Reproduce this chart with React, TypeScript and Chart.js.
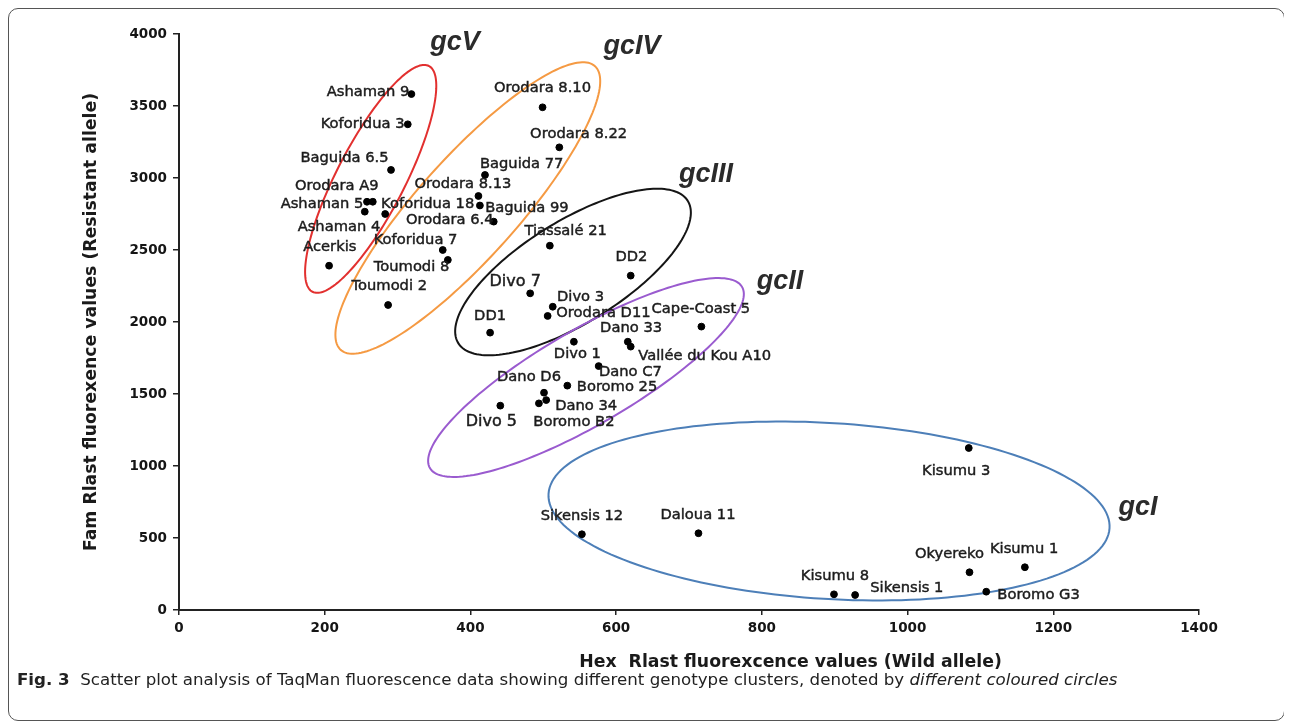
import React, { useEffect, useRef } from "react";
import { Chart, registerables } from "chart.js";

Chart.register(...registerables);

// ---------- data ----------
const sampleNames = [
  "Ashaman 9", "Koforidua 3", "Baguida 6.5", "Orodara A9", "Ashaman 5", "Ashaman 4",
  "Koforidua 18", "Acerkis", "Koforidua 7", "Toumodi 8", "Toumodi 2",
  "Orodara 8.10", "Orodara 8.22", "Baguida 77", "Orodara 8.13", "Baguida 99", "Orodara 6.4",
  "Tiassalé 21", "DD2", "Divo 7", "Divo 3", "Orodara D11", "DD1",
  "Cape-Coast 5", "Dano 33", "Vallée du Kou A10", "Divo 1", "Dano C7", "Boromo 25",
  "Dano D6", "Dano 34", "Boromo B2", "Divo 5",
  "Kisumu 3", "Sikensis 12", "Daloua 11", "Kisumu 8", "Sikensis 1", "Okyereko", "Kisumu 1", "Boromo G3",
];
// Hex Rlast (wild allele)
const hexValues = [
  319, 314, 291, 266, 258, 255, 283, 206, 362, 369, 287,
  499, 522, 420, 411, 413, 432,
  509, 620, 482, 513, 506, 427,
  717, 616, 620, 542, 576, 533,
  501, 504, 494, 441,
  1084, 553, 713, 899, 928, 1085, 1161, 1108,
];
// Fam Rlast (resistant allele)
const famValues = [
  3583, 3373, 3056, 2835, 2835, 2766, 2750, 2391, 2500, 2431, 2118,
  3491, 3213, 3021, 2875, 2809, 2697,
  2530, 2322, 2199, 2106, 2042, 1926,
  1968, 1863, 1829, 1863, 1694, 1558,
  1509, 1458, 1435, 1419,
  1125, 526, 533, 109, 104, 262, 297, 127,
];

const xTickValues = [0, 200, 400, 600, 800, 1000, 1200, 1400];
const yTickValues = [0, 500, 1000, 1500, 2000, 2500, 3000, 3500, 4000];

// genotype clusters (ellipses in data units: centre, major semi-axis vector, minor semi-axis vector)
const clusterNames = ["gcV", "gcIV", "gcIII", "gcII", "gcI"];
const clusterCenterX = [263.1, 396.4, 540.8, 558.6, 892.2];
const clusterCenterY = [2993.8, 2791.7, 2347.2, 1614.6, 687.5];
const clusterMajorDX = [79.9, 174.4, 157.5, 214.2, 385.0];
const clusterMajorDY = [784, 985.4, 493.9, 629, -119.1];
const clusterMinorDX = [41.5, 51.1, 36.9, 32.7, -7.4];
const clusterMinorDY = [-108.2, -231.6, -301, -285.3, -609.9];
const clusterLabelX = [378.8, 621.8, 723.3, 824.9, 1316.3];
const clusterLabelY = [3937.5, 3909.7, 3020.8, 2277.8, 708.3];

// ---------- styling ----------
const clusterColors = ["#e2302f", "#f59a43", "#151515", "#9a5bcf", "#4d7fb8"];
const labelOffsetX = [
  -43.4, -45.2, -46.5, -36, -45, -25.8, 42.5, 0.7, -27.2, -36.3, 1.2,
  0, 19.3, 36.7, -15.5, 47, -44,
  15.8, 0.7, -15, 27.8, 55.8, 0,
  -0.5, 3.3, 74, 3.5, 31.7, 49.7,
  -15, 40, 35, -9,
  -12.6, 0, -0.5, 1, 51.7, -20, -0.8, 52.3,
];
const labelOffsetY = [
  -2.3, 0, -11.7, -16, 2.6, 15.6, -9.7, -19, -10, 7.3, -19.3,
  -19, -13.3, -11, -12, 2.3, -1,
  -15, -18.4, -11.6, -9.7, -3, -16,
  -17.7, -13.7, 9.3, 12.3, 6, 1.3,
  -15.7, 6, 18.7, 16.3,
  23.4, -17.6, -18.3, -18.6, -6.7, -18.3, -18, 3.3,
];
const largeLabels = ["Divo 5", "Divo 7"];

const tickFont = { family: "'DejaVu Sans', sans-serif", size: 13.5, weight: "bold" as const };

const ellipsePlugin = {
  id: "clusterEllipses",
  beforeDatasetsDraw(chart: any) {
    const { ctx, scales } = chart;
    const xs = scales.x, ys = scales.y;
    ctx.save();
    for (let i = 0; i < clusterNames.length; i++) {
      ctx.beginPath();
      for (let k = 0; k <= 180; k++) {
        const t = (k / 180) * Math.PI * 2;
        const dx = clusterCenterX[i] + clusterMajorDX[i] * Math.cos(t) + clusterMinorDX[i] * Math.sin(t);
        const dy = clusterCenterY[i] + clusterMajorDY[i] * Math.cos(t) + clusterMinorDY[i] * Math.sin(t);
        const px = xs.getPixelForValue(dx);
        const py = ys.getPixelForValue(dy);
        if (k === 0) ctx.moveTo(px, py);
        else ctx.lineTo(px, py);
      }
      ctx.closePath();
      ctx.strokeStyle = clusterColors[i];
      ctx.lineWidth = 2;
      ctx.stroke();
      ctx.fillStyle = "#2b2b2b";
      ctx.font = "italic bold 27px 'Liberation Sans', Arial, sans-serif";
      ctx.textAlign = "center";
      ctx.textBaseline = "middle";
      ctx.fillText(clusterNames[i], xs.getPixelForValue(clusterLabelX[i]), ys.getPixelForValue(clusterLabelY[i]));
    }
    ctx.restore();
  },
};

const labelPlugin = {
  id: "pointLabels",
  afterDatasetsDraw(chart: any) {
    const { ctx } = chart;
    const meta = chart.getDatasetMeta(0);
    ctx.save();
    ctx.fillStyle = "#1c1c1c";
    ctx.strokeStyle = "#1c1c1c";
    ctx.lineWidth = 0.45;
    ctx.textAlign = "center";
    ctx.textBaseline = "middle";
    meta.data.forEach((pt: any, i: number) => {
      const size = largeLabels.includes(sampleNames[i]) ? 16 : 14.7;
      ctx.font = `${size}px 'DejaVu Sans', sans-serif`;
      const lx = pt.x + labelOffsetX[i];
      const ly = pt.y + labelOffsetY[i];
      ctx.fillText(sampleNames[i], lx, ly);
      ctx.strokeText(sampleNames[i], lx, ly);
    });
    ctx.restore();
  },
};

const axisTitlePlugin = {
  id: "axisTitles",
  afterDraw(chart: any) {
    const { ctx, chartArea } = chart;
    ctx.save();
    ctx.fillStyle = "#1a1a1a";
    ctx.font = "bold 17.3px 'DejaVu Sans', sans-serif";
    ctx.textAlign = "center";
    ctx.textBaseline = "middle";
    ctx.fillText("Hex  Rlast fluorexcence values (Wild allele)", chartArea.left + 611.5, chartArea.bottom + 53);
    ctx.translate(chartArea.left - 87, (chartArea.top + chartArea.bottom) / 2);
    ctx.rotate(-Math.PI / 2);
    ctx.fillText("Fam Rlast fluorexence values (Resistant allele)", 0, 0);
    ctx.restore();
  },
};

export default function App() {
  const canvasRef = useRef<HTMLCanvasElement | null>(null);

  useEffect(() => {
    if (!canvasRef.current) return;
    const points = hexValues.map((x, i) => ({ x, y: famValues[i] }));
    const chart = new Chart(canvasRef.current, {
      type: "scatter",
      data: {
        datasets: [
          {
            label: "Samples",
            data: points,
            backgroundColor: "#000",
            borderColor: "#000",
            pointRadius: 3.4,
            pointStyle: "circle",
          },
        ],
      },
      options: {
        animation: false,
        responsive: false,
        devicePixelRatio: 1,
        layout: { padding: { left: 0, right: 85, top: 25, bottom: 0 } },
        plugins: { legend: { display: false }, tooltip: { enabled: false }, title: { display: false } },
        scales: {
          x: {
            type: "linear",
            min: xTickValues[0],
            max: xTickValues[xTickValues.length - 1],
            afterBuildTicks: (s: any) => { s.ticks = xTickValues.map((v) => ({ value: v })); },
            ticks: { font: tickFont, color: "#151515", padding: 5, maxRotation: 0, callback: (v: any) => String(v) },
            grid: { drawOnChartArea: false, drawTicks: true, tickLength: 5, color: "#222", lineWidth: 1.5 },
            border: { color: "#222", width: 2 },
            afterFit: (s: any) => { s.height = 79; },
          },
          y: {
            type: "linear",
            min: yTickValues[0],
            max: yTickValues[yTickValues.length - 1],
            afterBuildTicks: (s: any) => { s.ticks = yTickValues.map((v) => ({ value: v })); },
            ticks: { font: tickFont, color: "#151515", padding: 6, callback: (v: any) => String(v) },
            grid: { drawOnChartArea: false, drawTicks: true, tickLength: 6, color: "#222", lineWidth: 1.5 },
            border: { color: "#222", width: 2 },
            afterFit: (s: any) => { s.width = 170; },
          },
        },
      },
      plugins: [ellipsePlugin, labelPlugin, axisTitlePlugin],
    });
    return () => chart.destroy();
  }, []);

  return (
    <div
      style={{
        position: "relative",
        width: 1277,
        height: 713,
        border: "1px solid #555",
        borderRadius: 10,
        boxSizing: "border-box",
        background: "#fff",
      }}
    >
      <canvas ref={canvasRef} width={1275} height={680} style={{ position: "absolute", left: 0, top: 0 }} />
      <div
        style={{
          position: "absolute",
          left: 8,
          top: 662,
          fontFamily: "'DejaVu Sans', sans-serif",
          fontSize: 15,
          color: "#222",
          whiteSpace: "nowrap",
          transform: "scaleX(1.11)",
          transformOrigin: "left center",
        }}
      >
        <b>Fig. 3</b>&nbsp;&nbsp;Scatter plot analysis of TaqMan fluorescence data showing different genotype clusters, denoted by{" "}
        <i>different coloured circles</i>
      </div>
    </div>
  );
}
